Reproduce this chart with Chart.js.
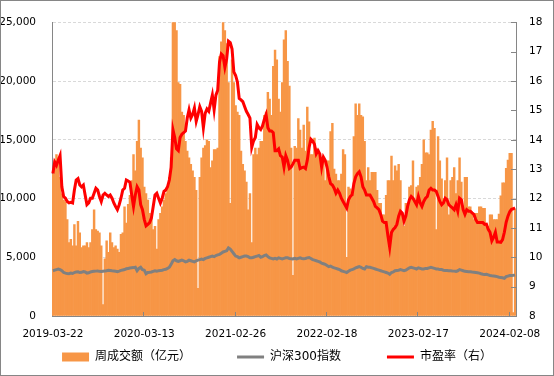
<!DOCTYPE html>
<html>
<head>
<meta charset="utf-8">
<script src="https://cdn.jsdelivr.net/npm/chart.js@4"></script>
<style>
  html, body { margin: 0; padding: 0; background: #fff; }
  canvas { display: block; }
</style>
</head>
<body>
<canvas id="chart" width="554" height="376"></canvas>
<script>
// Weekly turnover vs CSI 300 and P/E, 2019-03 .. 2024-02

// x-axis labels and the week each one sits on
const tickDates = ["2019-03-22", "2020-03-13", "2021-02-26", "2022-02-18", "2023-02-17", "2024-02-08"];
const tickWeeks = [0, 51, 102, 153, 204, 255];

// weekly turnover (亿元), left axis
const turnover = [
  12080, 13200, 13750, 13470, 11800, 10400, 9860, 9720, 8200, 6250,
  6530, 5970, 7780, 5970, 8060, 7080, 5830, 5970, 5970, 6250,
  5830, 6250, 7360, 9030, 7360, 7220, 7080, 5970, 970, 4860,
  6390, 5420, 7080, 6250, 5830, 5970, 5700, 5420, 6950, 7080,
  9300, 7920, 9500, 10280, 11530, 13750, 12360, 14860, 16670, 14300,
  13470, 10970, 10420, 9860, 8750, 8470, 7360, 7640, 5700, 8200,
  8750, 9300, 9860, 10420, 10970, 11810, 13470, 25000, 25000, 24300,
  19860, 19720, 17360, 17080, 14860, 14030, 13470, 12920, 12360, 11810,
  10700, 2360, 11810, 13470, 14300, 14500, 15000, 14860, 12640, 13200,
  14170, 14170, 14300, 22080, 23330, 25000, 24300, 23190, 19860, 9580,
  21800, 19860, 17920, 17360, 17080, 14030, 12920, 12360, 11390, 9030,
  10420, 6250, 13750, 14300, 13750, 14300, 14860, 14860, 17080, 17360,
  19030, 18470, 17080, 21250, 22640, 21810, 18470, 17360, 19860, 23500,
  24300, 21670, 19580, 14300, 3470, 14450, 14300, 16800, 15830, 14300,
  16250, 14030, 17780, 16530, 13750, 13750, 15140, 14300, 14170, 13750,
  13200, 13200, 11530, 13200, 13200, 15700, 16390, 12500, 12080, 11530,
  11530, 12080, 14170, 13750, 5000, 10970, 10830, 10140, 15280, 18060,
  17080, 18060, 17080, 16950, 14860, 11530, 12640, 11530, 12220, 12220,
  12220, 10700, 9580, 9580, 8610, 8610, 10280, 11530, 11530, 13610,
  11530, 12780, 12360, 12920, 11530, 8750, 7640, 9580, 9580, 10970,
  11110, 13200, 9860, 10970, 11110, 11810, 12920, 15000, 13890, 13890,
  13750, 15830, 16580, 15970, 7360, 15280, 13200, 11670, 10000, 11530,
  13470, 8610, 11530, 11800, 12640, 10420, 11530, 13470, 11390, 9170,
  11810, 11810, 9300, 9300, 8750, 8200, 8750, 8750, 9300, 9300,
  9170, 9170, 7640, 7640, 8610, 8610, 8200, 8200, 8200, 8670,
  10230, 11330, 11330, 12580, 13280, 13840, 13840, 300, 9060
];

// CSI 300 index level, left axis
const csi300 = [
  3850, 3900, 3950, 4000, 3950, 3850, 3700, 3650, 3620, 3600,
  3650, 3620, 3700, 3750, 3760, 3700, 3720, 3780, 3750, 3650,
  3680, 3750, 3780, 3800, 3820, 3830, 3800, 3780, 3810, 3830,
  3850, 3900, 3880, 3850, 3830, 3810, 3780, 3820, 3880, 3920,
  3950, 4020, 4050, 4080, 4100, 4120, 4150, 3850, 4050, 4150,
  3950, 3900, 3600, 3700, 3720, 3750, 3800, 3850, 3820, 3860,
  3880, 3900, 3950, 3980, 4050, 4150, 4400, 4700, 4800, 4700,
  4650, 4700, 4750, 4700, 4600, 4650, 4750, 4700, 4650, 4600,
  4700, 4750, 4800, 4850, 4800, 4900, 4950, 5000, 5050, 5100,
  5050, 5150, 5200, 5250, 5350, 5450, 5500, 5550, 5800, 5700,
  5500, 5300, 5100, 5050, 4950, 5000, 5050, 5100, 5100, 5050,
  4950, 4950, 5000, 5050, 5100, 5150, 5000, 5050, 5150, 5200,
  5050, 4950, 4900, 4850, 4900, 4850, 4950, 4900, 4850, 4900,
  4950, 4950, 4900, 4880, 4850, 4900, 4850, 4900, 4950, 4900,
  4880, 4900, 4950, 4980, 4900, 4800, 4750, 4700, 4650, 4600,
  4500, 4450, 4400, 4300, 4200, 4250, 4150, 4100, 4050, 4000,
  3950, 3850, 3800, 3750, 3700, 3800, 3900, 3950, 4000, 4100,
  4150, 4200, 4150, 4050, 4000, 4200, 4150, 4150, 4100, 4050,
  4000, 3950, 3900, 3850, 3800, 3750, 3700, 3650, 3550, 3700,
  3750, 3850, 3880, 3900, 3950, 3900, 3850, 3900, 4000, 4100,
  4150, 4100, 4050, 4000, 4100, 4050, 4000, 4000, 4050, 4050,
  4100, 4150, 4100, 4050, 4000, 4000, 3950, 3950, 3900, 3880,
  3870, 3850, 3850, 3830, 3820, 3800, 3850, 3950, 3900, 3850,
  3800, 3780, 3760, 3770, 3740, 3720, 3700, 3680, 3650, 3600,
  3560, 3540, 3550, 3500, 3450, 3420, 3400, 3380, 3350, 3300,
  3280, 3250, 3200, 3350, 3400, 3450, 3450, 3460, 3480
];

// P/E ratio, right axis
const peRatio = [
  12.85, 13.24, 13.13, 13.30, 13.46, 12.40, 12.07, 12.01, 11.90, 11.85,
  11.87, 11.85, 12.29, 12.63, 12.68, 12.46, 12.40, 12.46, 12.12, 11.79,
  11.85, 12.01, 12.01, 12.18, 12.35, 12.29, 12.07, 11.90, 12.12, 12.18,
  12.12, 12.07, 12.12, 12.01, 11.85, 11.73, 11.62, 11.79, 12.01, 12.29,
  12.35, 12.63, 12.60, 12.55, 12.12, 11.73, 12.12, 12.40, 12.29, 11.79,
  11.62, 11.29, 11.07, 11.12, 11.18, 11.34, 11.73, 12.12, 12.18, 12.01,
  11.85, 12.01, 12.24, 12.29, 12.40, 12.63, 13.07, 14.35, 14.08, 13.69,
  13.63, 14.08, 14.19, 14.24, 14.30, 14.74, 15.02, 14.74, 14.86, 15.08,
  14.63, 14.86, 15.13, 14.97, 14.41, 14.90, 15.05, 14.97, 15.25, 15.52,
  15.02, 15.52, 15.69, 16.64, 16.92, 16.86, 16.47, 16.75, 17.36, 17.31,
  17.09, 16.31, 16.19, 15.97, 15.41, 15.36, 15.30, 15.13, 14.97, 14.86,
  14.74, 13.74, 13.96, 14.08, 14.52, 14.41, 14.35, 14.47, 14.69, 14.86,
  14.41, 14.30, 14.30, 14.24, 13.63, 13.63, 13.69, 13.46, 13.41, 13.07,
  13.46, 13.30, 13.02, 13.07, 13.18, 13.30, 13.30, 13.30, 13.02, 13.05,
  13.07, 13.02, 13.30, 13.74, 14.02, 13.96, 13.85, 13.52, 13.63, 13.52,
  13.07, 13.41, 13.30, 13.07, 12.74, 12.51, 12.46, 12.35, 12.18, 12.29,
  12.18, 12.01, 11.90, 11.79, 11.68, 11.96, 12.07, 12.12, 12.51, 12.74,
  12.85, 12.91, 12.74, 12.40, 12.29, 12.12, 12.12, 12.12, 12.01, 11.90,
  11.73, 11.68, 11.62, 11.46, 11.23, 11.18, 11.18, 10.73, 10.34, 10.84,
  10.95, 11.01, 11.12, 11.40, 11.57, 11.51, 11.23, 11.40, 11.73, 11.96,
  12.07, 12.01, 11.90, 11.79, 12.07, 11.85, 11.73, 11.90, 12.01, 12.07,
  12.29, 12.35, 12.29, 12.29, 12.24, 12.07, 11.90, 11.79, 11.85, 12.01,
  11.96, 11.79, 11.73, 11.68, 11.62, 11.79, 11.57, 12.01, 11.96, 11.62,
  11.46, 11.62, 11.57, 11.57, 11.51, 11.46, 11.29, 11.18, 11.18, 11.18,
  11.18, 11.12, 11.13, 10.95, 10.85, 10.56, 10.68, 10.85, 10.52, 10.52,
  10.51, 10.60, 10.85, 11.19, 11.40, 11.55, 11.63, 11.65, 11.68
];

const weeks = turnover.map((_, i) => i);

const axisGray = "#868686";

Chart.defaults.font.family = '"DejaVu Sans", "Noto Sans CJK SC", sans-serif';
Chart.defaults.font.size = 10.5;
Chart.defaults.color = "#000";

// white background, inner tick marks and the outer frame
const framePlugin = {
  id: "frame",
  beforeDraw(chart) {
    const ctx = chart.ctx;
    ctx.save();
    ctx.fillStyle = "#fff";
    ctx.fillRect(0, 0, chart.width, chart.height);
    ctx.restore();
  },
  afterDraw(chart) {
    const { ctx, chartArea, scales } = chart;
    ctx.save();
    ctx.strokeStyle = axisGray;
    ctx.lineWidth = 1;
    ctx.beginPath();
    scales.y1.ticks.forEach(t => {
      const y = Math.round(scales.y1.getPixelForValue(t.value)) + 0.5;
      ctx.moveTo(chartArea.right - 5, y);
      ctx.lineTo(chartArea.right, y);
    });
    const step = (chartArea.right - chartArea.left) / weeks.length;
    tickWeeks.slice(1).forEach(w => {
      const x = Math.round(scales.x.getPixelForValue(w) - step / 2) + 0.5;
      ctx.moveTo(x, chartArea.bottom);
      ctx.lineTo(x, chartArea.bottom - 4);
    });
    ctx.stroke();
    ctx.strokeRect(0.5, 0.5, chart.width - 1, chart.height - 1);
    ctx.restore();
  }
};

// legend marker per dataset, plus trailing space to spread the items out
const legendStyles = ["rect", "line", "line"];
const legendGaps = ["\u3000\u3000\u3000\u2002", "\u3000\u3000\u3000", ""];

new Chart(document.getElementById("chart"), {
  type: "bar",
  data: {
    labels: weeks,
    datasets: [
      {
        label: "周成交额（亿元）",
        data: turnover,
        backgroundColor: "#F79646",
        borderWidth: 0,
        barPercentage: 1,
        categoryPercentage: 1,
        yAxisID: "y",
        order: 3
      },
      {
        type: "line",
        label: "沪深300指数",
        data: csi300,
        borderColor: "#808080",
        backgroundColor: "#808080",
        borderWidth: 3,
        pointRadius: 0,
        tension: 0,
        yAxisID: "y",
        order: 2
      },
      {
        type: "line",
        label: "市盈率（右）",
        data: peRatio,
        borderColor: "#FF0000",
        backgroundColor: "#FF0000",
        borderWidth: 3,
        pointRadius: 0,
        tension: 0,
        yAxisID: "y1",
        order: 1
      }
    ]
  },
  plugins: [framePlugin],
  options: {
    responsive: false,
    animation: false,
    devicePixelRatio: 1,
    layout: { padding: { top: 17, left: 0, right: 0, bottom: 3 } },
    scales: {
      x: {
        offset: true,
        afterFit: scale => { scale.height = 25; },
        grid: { display: false, drawTicks: false },
        border: { display: true, color: axisGray },
        ticks: {
          autoSkip: false,
          maxRotation: 0,
          minRotation: 0,
          padding: 12,
          callback: (value, index) => {
            const k = tickWeeks.indexOf(index);
            return k >= 0 ? tickDates[k] : "";
          }
        }
      },
      y: {
        position: "left",
        min: 0,
        max: 25000,
        afterFit: scale => { scale.width = 52; },
        ticks: { stepSize: 5000, padding: 16 },
        grid: {
          drawTicks: false,
          color: c => (c.tick && c.tick.value === 0 ? "rgba(0,0,0,0)" : "#D9D9D9")
        },
        border: { color: axisGray, dash: [3, 2] }
      },
      y1: {
        position: "right",
        min: 8,
        max: 18,
        afterFit: scale => { scale.width = 38; },
        ticks: { stepSize: 1, padding: 13 },
        grid: { display: false, drawTicks: false },
        border: { color: axisGray }
      }
    },
    plugins: {
      legend: {
        position: "bottom",
        labels: {
          usePointStyle: true,
          pointStyleWidth: 27,
          boxHeight: 9,
          padding: 10,
          font: { size: 12 },
          sort: (a, b) => a.datasetIndex - b.datasetIndex,
          generateLabels: chart => {
            const items = Chart.defaults.plugins.legend.labels.generateLabels(chart);
            items.forEach(it => {
              it.pointStyle = legendStyles[it.datasetIndex];
              it.text += legendGaps[it.datasetIndex];
            });
            return items;
          }
        }
      },
      tooltip: { enabled: false }
    }
  }
});
</script>
</body>
</html>
